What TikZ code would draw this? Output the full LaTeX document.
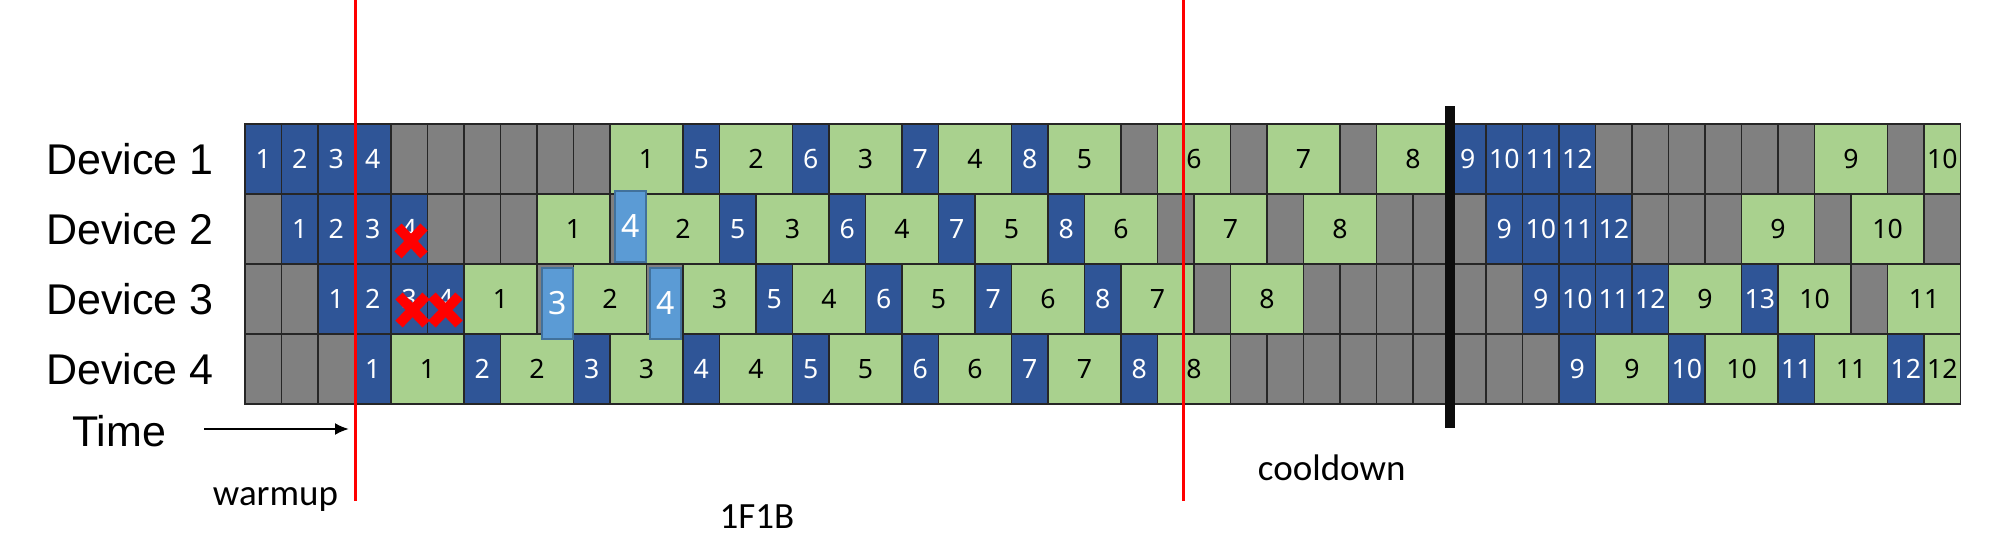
\documentclass[tikz,border=0pt]{standalone}
\usepackage{fontspec}
\usetikzlibrary{arrows.meta}
\newfontfamily\devicefont{Liberation Sans}
\newfontfamily\cellnumfont{Noto Sans}
\newfontfamily\phasefont{Carlito}
\definecolor{fwdblue}{HTML}{2F5597}
\definecolor{bwdgreen}{HTML}{A9D18E}
\definecolor{idlegray}{HTML}{808080}
\definecolor{redoblue}{HTML}{5B9BD5}
\definecolor{redoedge}{HTML}{41719C}
\definecolor{gridline}{HTML}{262626}

\begin{document}
\begin{tikzpicture}[x=0.5pt,y=-0.5pt]
\tikzstyle{slot} = [draw=gridline, line width=0.7pt, inner sep=0pt, outer sep=0pt, minimum height=35pt, anchor=north west, font=\cellnumfont\fontsize{13.3pt}{16pt}\selectfont]
\tikzstyle{idle} = [slot, fill=idlegray, minimum width=18.25pt]
\tikzstyle{fw} = [slot, fill=fwdblue, text=white]
\tikzstyle{bw} = [slot, fill=bwdgreen, text=black]
\tikzstyle{redo} = [draw=redoedge, line width=1pt, fill=redoblue, text=white, inner sep=0pt, minimum width=15.3pt, minimum height=35.5pt, font=\cellnumfont\fontsize{16pt}{19pt}\selectfont]
\tikzstyle{devlabel} = [font=\devicefont\fontsize{21.5pt}{26pt}\selectfont]
\tikzstyle{phaselabel} = [font=\phasefont\fontsize{18.5pt}{22pt}\selectfont]
\tikzstyle{phaseline} = [red, line width=1.5pt]
\tikzstyle{redcross} = [red, line width=5pt]

\useasboundingbox (0,0) rectangle (2000,557);

\foreach \r in {1,...,4} {
\node[devlabel, anchor=west] (dev\r) at (39, {159+70*(\r-1)}) {Device \r};
\foreach \c in {0,...,46}
\node[idle] (i\r-\c) at ({245+36.5*\c}, {124+70*(\r-1)}) {};
}

\foreach \c/\w/\t/\l in {0/1/fw/1, 1/1/fw/2, 2/1/fw/3, 3/1/fw/4, 10/2/bw/1, 12/1/fw/5, 13/2/bw/2, 15/1/fw/6, 16/2/bw/3, 18/1/fw/7, 19/2/bw/4, 21/1/fw/8, 22/2/bw/5, 25/2/bw/6, 28/2/bw/7, 31/2/bw/8, 33/1/fw/9, 34/1/fw/10, 35/1/fw/11, 36/1/fw/12, 43/2/bw/9, 46/1/bw/10}
\node[\t, minimum width={\w*18.25pt}] (d1-\c) at ({245+36.5*\c}, 124) {\l};

\foreach \c/\w/\t/\l in {1/1/fw/1, 2/1/fw/2, 3/1/fw/3, 4/1/fw/4, 8/2/bw/1, 11/2/bw/2, 13/1/fw/5, 14/2/bw/3, 16/1/fw/6, 17/2/bw/4, 19/1/fw/7, 20/2/bw/5, 22/1/fw/8, 23/2/bw/6, 26/2/bw/7, 29/2/bw/8, 34/1/fw/9, 35/1/fw/10, 36/1/fw/11, 37/1/fw/12, 41/2/bw/9, 44/2/bw/10}
\node[\t, minimum width={\w*18.25pt}] (d2-\c) at ({245+36.5*\c}, 194) {\l};

\foreach \c/\w/\t/\l in {2/1/fw/1, 3/1/fw/2, 4/1/fw/3, 5/1/fw/4, 6/2/bw/1, 9/2/bw/2, 12/2/bw/3, 14/1/fw/5, 15/2/bw/4, 17/1/fw/6, 18/2/bw/5, 20/1/fw/7, 21/2/bw/6, 23/1/fw/8, 24/2/bw/7, 27/2/bw/8, 35/1/fw/9, 36/1/fw/10, 37/1/fw/11, 38/1/fw/12, 39/2/bw/9, 41/1/fw/13, 42/2/bw/10, 45/2/bw/11}
\node[\t, minimum width={\w*18.25pt}] (d3-\c) at ({245+36.5*\c}, 264) {\l};

\foreach \c/\w/\t/\l in {3/1/fw/1, 4/2/bw/1, 6/1/fw/2, 7/2/bw/2, 9/1/fw/3, 10/2/bw/3, 12/1/fw/4, 13/2/bw/4, 15/1/fw/5, 16/2/bw/5, 18/1/fw/6, 19/2/bw/6, 21/1/fw/7, 22/2/bw/7, 24/1/fw/8, 25/2/bw/8, 36/1/fw/9, 37/2/bw/9, 39/1/fw/10, 40/2/bw/10, 42/1/fw/11, 43/2/bw/11, 45/1/fw/12, 46/1/bw/12}
\node[\t, minimum width={\w*18.25pt}] (d4-\c) at ({245+36.5*\c}, 334) {\l};

\node[redo] (r2-10) at (630.4, 226.2) {4};
\node[redo] (r3-8) at (557.5, 303.5) {3};
\node[redo] (r3-11) at (665.7, 303.5) {4};

\draw[redcross] (398,227) -- (424,255) (398,255) -- (424,227);
\draw[redcross] (399,296) -- (426,324) (399,324) -- (426,296);
\draw[redcross] (432,296) -- (459,324) (432,324) -- (459,296);

\coordinate (wu-top) at (355,0);
\coordinate (wu-bot) at (355,501);
\coordinate (cd-top) at (1183,0);
\coordinate (cd-bot) at (1183,501);
\draw[phaseline] (wu-top) -- (wu-bot);
\draw[phaseline] (cd-top) -- (cd-bot);

\coordinate (bar-top) at (1450,106);
\coordinate (bar-bot) at (1450,428);
\draw[line width=5pt, black!95] (bar-top) -- (bar-bot);

\node[devlabel] (time) at (119,431) {Time};
\coordinate (t-from) at (204,429);
\coordinate (t-to) at (349,429);
\draw[line width=1.2pt, -{Latex[length=7pt,width=6pt]}] (t-from) -- (t-to);

\node[phaselabel] (warmup) at (275.5,499) {warmup};
\node[phaselabel] (steady) at (757,517) {1F1B};
\node[phaselabel] (cooldown) at (1331.7,468) {cooldown};
\end{tikzpicture}
\end{document}
